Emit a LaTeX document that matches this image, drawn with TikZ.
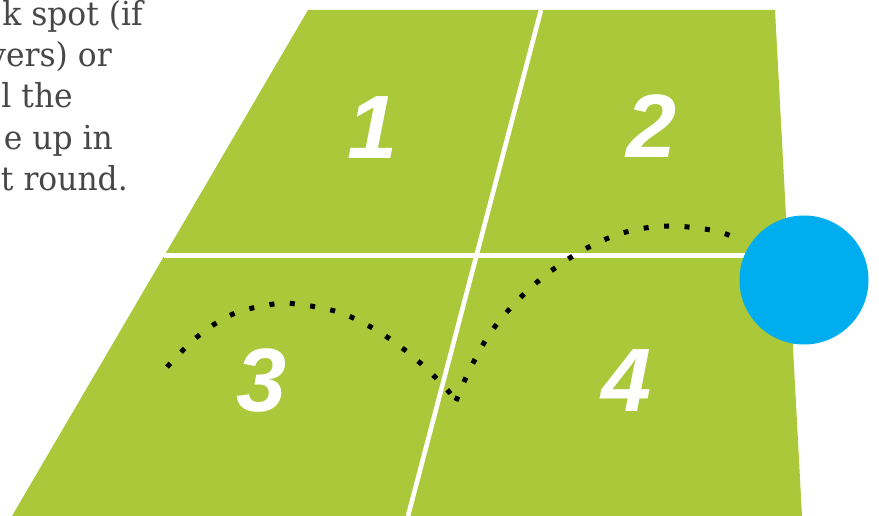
\documentclass[tikz,border=0pt]{standalone}
\usepackage{fontspec}
\newfontfamily\bodyfont[FakeStretch=0.95]{DejaVu Serif}
\newfontfamily\numfont{Liberation Sans}
\definecolor{court}{HTML}{AAC83A}
\definecolor{ball}{HTML}{00AEEF}
\definecolor{txt}{HTML}{474747}
\tikzset{
  courtline/.style={white, line width=4.6pt},
  numlabel/.style={white, inner sep=0pt, font=\numfont\bfseries\itshape\fontsize{90}{90}\selectfont},
  bodyline/.style={txt, inner sep=0pt, anchor=base east, font=\bodyfont\fontsize{33}{33}\selectfont},
  dotpath/.style={black, line width=5pt, line cap=butt, dash pattern=on 5pt off 15.5pt},
}
\begin{document}
\begin{tikzpicture}[x=1pt,y=-1pt]
\useasboundingbox (0,0) rectangle (879,516);
\clip (0,0) rectangle (879,516);
% text
\node[bodyline] (t1) at (143,26) {k spot (if};
\node[bodyline] (t2) at (112,67) {yers) or};
\node[bodyline] (t3) at (73,108) {l the};
\node[bodyline] (t4) at (113,150) {e up in};
\node[bodyline] (t5) at (128,191) {t round.};
% court
\fill[court] (308,10) -- (775,10) -- (802,516) -- (12,516) -- cycle;
\coordinate (hl) at (164,255.5);
\coordinate (hr) at (788,255.5);
\coordinate (vt) at (541,10);
\coordinate (vb) at (408,516);
\draw[courtline] (hl) -- (hr);
\draw[courtline] (vt) -- (vb);
% numbers
\node[numlabel] (n1) at (373,128) {1};
\node[numlabel] (n2) at (652,126) {2};
\node[numlabel] (n3) at (262,381) {3};
\node[numlabel] (n4) at (627,381) {4};
% dotted path
\draw[dotpath] plot[smooth, tension=0.6] coordinates {(167,367) (197,337) (233,314) (274,304) (296,304) (338,312) (376,330) (411,355) (442,384) (456,401)};
\draw[dotpath] plot[smooth, tension=0.6] coordinates {(456,401) (470,369) (491,332) (519,299) (551,271) (587,248) (626,232) (668,226) (711,230) (731,236)};
% ball
\node[circle, fill=ball, minimum size=129pt, inner sep=0pt] (ball) at (804,280) {};
\end{tikzpicture}
\end{document}
